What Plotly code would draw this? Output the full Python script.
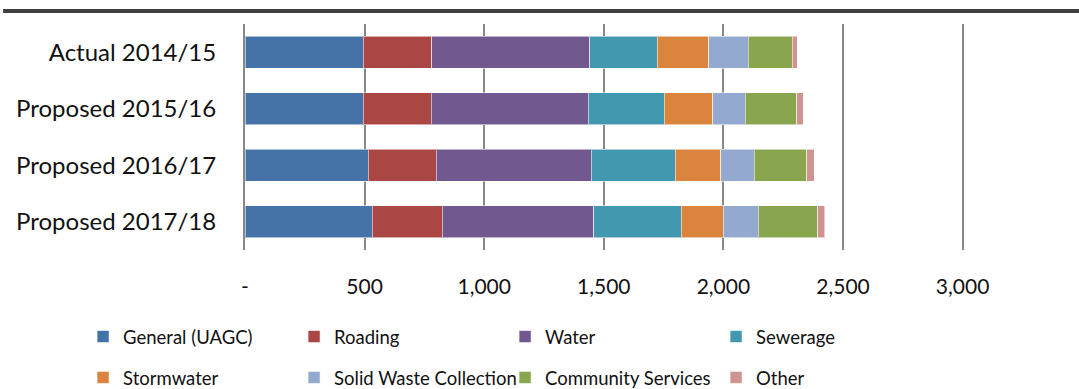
import plotly.graph_objects as go

# Rates requirement by activity, $000
periods = ["Actual 2014/15", "Proposed 2015/16", "Proposed 2016/17", "Proposed 2017/18"]

general = [494, 494, 515, 532]
roading = [286, 284, 284, 292]
water = [661, 656, 648, 634]
sewerage = [282, 318, 351, 365]
stormwater = [216, 203, 191, 177]
solid_waste = [164, 137, 139, 146]
community = [184, 215, 221, 248]
other = [22, 26, 31, 29]

tick_vals = [0, 500, 1000, 1500, 2000, 2500, 3000]
tick_text = ["-", "500", "1,000", "1,500", "2,000", "2,500", "3,000"]

series = [
    ("General (UAGC)", general, "#4572A7", "legend"),
    ("Roading", roading, "#AA4643", "legend"),
    ("Water", water, "#71588F", "legend"),
    ("Sewerage", sewerage, "#4198AF", "legend"),
    ("Stormwater", stormwater, "#DB843D", "legend2"),
    ("Solid Waste Collection", solid_waste, "#93A9CF", "legend2"),
    ("Community Services", community, "#89A54E", "legend2"),
    ("Other", other, "#D19392", "legend2"),
]

FONT = "Lato, 'Open Sans', sans-serif"

fig = go.Figure()
for name, vals, color, leg in series:
    fig.add_trace(go.Bar(
        y=periods, x=vals, name=name, orientation="h",
        marker=dict(color=color, line=dict(color="rgba(255,255,255,0.55)", width=1)),
        legend=leg,
    ))

legend_common = dict(
    orientation="h", xanchor="left", yanchor="middle",
    entrywidth=166, entrywidthmode="pixels",
    font=dict(family=FONT, size=18.5, color="#111111"),
    bgcolor="rgba(0,0,0,0)", itemclick=False, itemdoubleclick=False,
    traceorder="normal",
)

fig.update_layout(
    width=1079, height=389,
    margin=dict(l=245, r=114, t=24, b=139, autoexpand=False),
    paper_bgcolor="white", plot_bgcolor="white",
    barmode="stack", bargap=0.425,
    font=dict(family=FONT, color="#111111"),
    xaxis=dict(
        range=[0, 3010], tickvals=tick_vals, ticktext=tick_text,
        showgrid=True, gridcolor="#888888", gridwidth=2,
        zeroline=False, showline=False, ticks="",
        tickfont=dict(family=FONT, size=21, color="#111111"),
        ticklabelstandoff=22, fixedrange=True,
    ),
    yaxis=dict(
        autorange="reversed", showgrid=False, zeroline=False,
        showline=True, linecolor="#888888", linewidth=2, ticks="",
        tickfont=dict(family=FONT, size=24, color="#111111"),
        ticklabelstandoff=22, fixedrange=True,
    ),
    legend=dict(x=-0.2249, y=-0.385, **legend_common),
    legend2=dict(x=-0.2249, y=-0.566, **legend_common),
    shapes=[dict(
        type="line", xref="paper", yref="paper",
        x0=-0.336, x1=1.17, y0=1.058, y1=1.058,
        line=dict(color="#404040", width=4),
    )],
)

fig.write_html("out.html")
